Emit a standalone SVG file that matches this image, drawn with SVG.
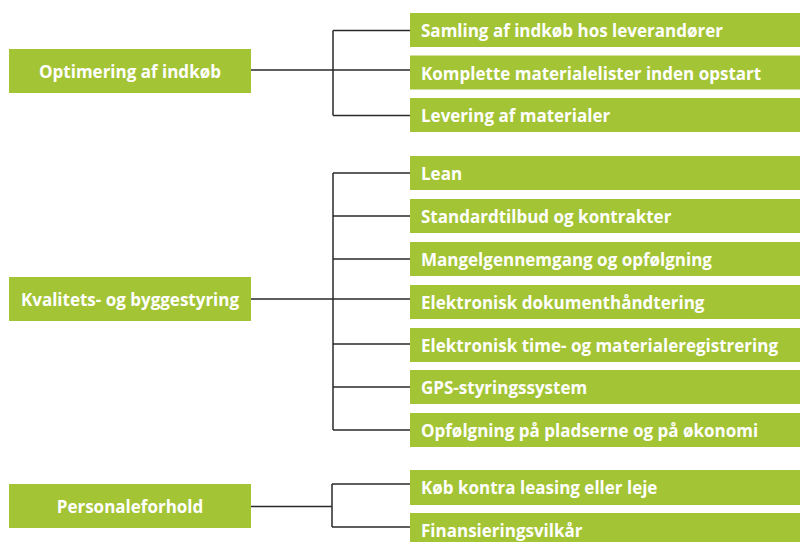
<svg xmlns="http://www.w3.org/2000/svg" width="800" height="542" viewBox="0 0 800 542">
<style>
.box{fill:#a3c435}
.t{font-family:"Open Sans","Liberation Sans",sans-serif;font-weight:bold;font-size:17px;fill:#fff}
.c{text-anchor:middle}
.ln{fill:none;stroke:#2a2a2a;stroke-width:1.5}
</style>
<rect width="800" height="542" fill="#fff"/>
<g id="connectors">
<path class="ln" d="M251 70H333M333 30.5V115.5M333 30.5H410M333 70H410M333 115.5H410"/>
<path class="ln" d="M251 299H333M333 173V430M333 173H410M333 216H410M333 259H410M333 299H410M333 344H410M333 387H410M333 430H410"/>
<path class="ln" d="M251 506.5H332M332 484V527M332 484H410M332 527H410"/>
</g>
<g id="n-optimering"><rect class="box" x="9" y="49" width="242" height="44"/><text class="t c" x="130" y="78">Optimering af indkøb</text></g>
<g id="n-kvalitet"><rect class="box" x="9" y="277" width="242" height="44"/><text class="t c" x="130" y="306">Kvalitets- og byggestyring</text></g>
<g id="n-personale"><rect class="box" x="9" y="484" width="242" height="44"/><text class="t c" x="130" y="513">Personaleforhold</text></g>
<g id="r1"><rect class="box" x="410" y="13" width="390" height="34"/><text class="t" x="421" y="37">Samling af indkøb hos leverandører</text></g>
<g id="r2"><rect class="box" x="410" y="55.5" width="390" height="34"/><text class="t" x="421" y="79.5">Komplette materialelister inden opstart</text></g>
<g id="r3"><rect class="box" x="410" y="98" width="390" height="34"/><text class="t" x="421" y="122">Levering af materialer</text></g>
<g id="r4"><rect class="box" x="410" y="156" width="390" height="34"/><text class="t" x="421" y="180">Lean</text></g>
<g id="r5"><rect class="box" x="410" y="199" width="390" height="34"/><text class="t" x="421" y="223">Standardtilbud og kontrakter</text></g>
<g id="r6"><rect class="box" x="410" y="242" width="390" height="34"/><text class="t" x="421" y="266">Mangelgennemgang og opfølgning</text></g>
<g id="r7"><rect class="box" x="410" y="285" width="390" height="34"/><text class="t" x="421" y="309">Elektronisk dokumenthåndtering</text></g>
<g id="r8"><rect class="box" x="410" y="328" width="390" height="34"/><text class="t" x="421" y="352">Elektronisk time- og materialeregistrering</text></g>
<g id="r9"><rect class="box" x="410" y="370" width="390" height="34"/><text class="t" x="421" y="394">GPS-styringssystem</text></g>
<g id="r10"><rect class="box" x="410" y="413" width="390" height="34"/><text class="t" x="421" y="437">Opfølgning på pladserne og på økonomi</text></g>
<g id="r11"><rect class="box" x="410" y="470" width="390" height="35"/><text class="t" x="421" y="494">Køb kontra leasing eller leje</text></g>
<g id="r12"><rect class="box" x="410" y="513" width="390" height="35"/><text class="t" x="421" y="537">Finansieringsvilkår</text></g>
</svg>
